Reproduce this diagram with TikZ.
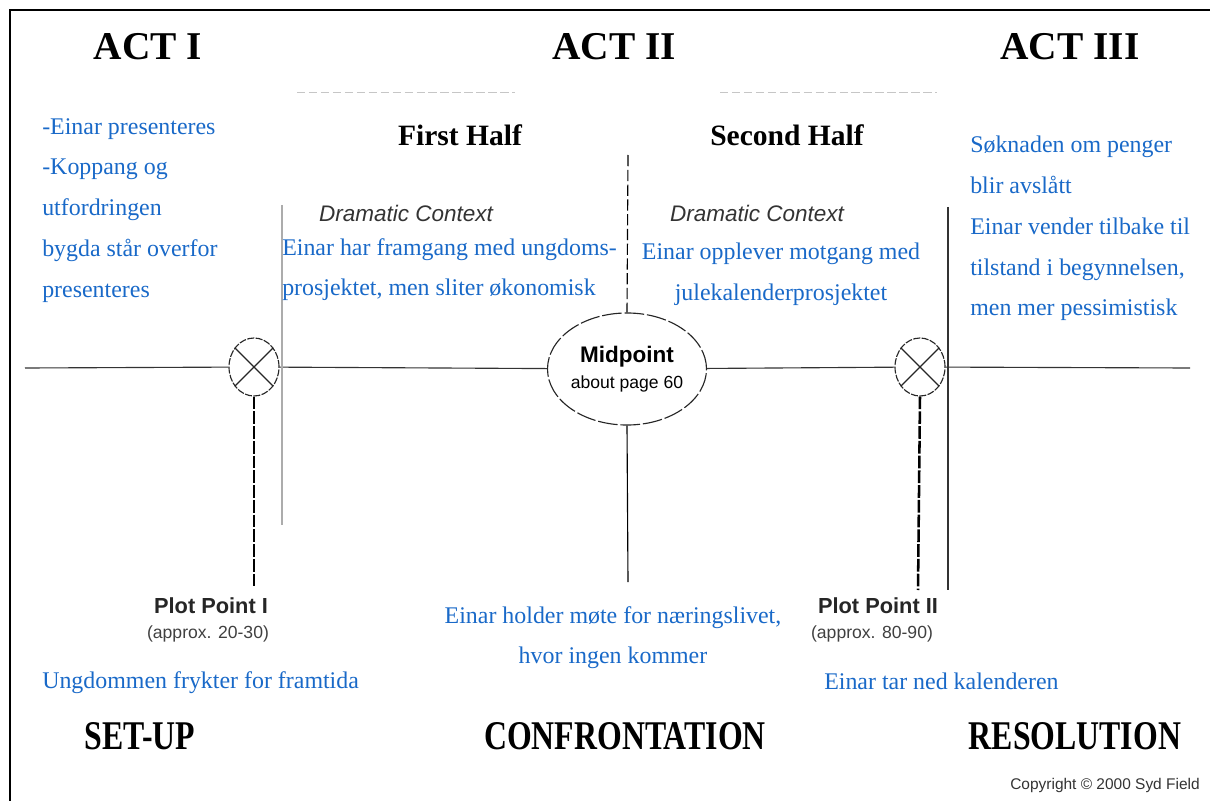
\documentclass[tikz,border=0pt]{standalone}
\usepackage{fontspec}
\setmainfont{Liberation Serif}
\setsansfont{Liberation Sans}
\usetikzlibrary{shapes.geometric}

\definecolor{noteblue}{RGB}{25,105,200}

\begin{document}
\begin{tikzpicture}[
          x=0.025cm, y=-0.025cm,
          actlbl/.style={font=\fontsize{28}{30}\selectfont\bfseries},
          halflbl/.style={font=\fontsize{21}{24}\selectfont\bfseries},
          ctxlbl/.style={font=\fontsize{16}{18}\selectfont\sffamily\itshape, text=black!80},
          notetext/.style={font=\fontsize{17}{29}\selectfont, text=noteblue, inner sep=0pt},
          partlbl/.style={font=\fontsize{29}{30}\selectfont\bfseries},
          ppmark/.style={ellipse, draw=black!85, thick, fill=white,
                         dash pattern=on 5pt off 1pt,
                         minimum width=1.25cm, minimum height=1.45cm, inner sep=0pt},
          midmark/.style={ellipse, draw=black!85, thick, fill=white,
                          dash pattern=on 14pt off 2pt, align=center,
                          minimum width=3.85cm, minimum height=2.8cm, inner sep=0pt},
          pplbl/.style={font=\fontsize{15.5}{17}\selectfont\sffamily\bfseries, text=black!85},
          ppsub/.style={font=\fontsize{12.5}{14}\selectfont\sffamily, text=black!75},
          axis/.style={line width=0.8pt, black!80},
          drop/.style={line width=1.8pt, dash pattern=on 9pt off 1.5pt},
          divider/.style={line width=0.7pt, gray!45, dash pattern=on 6pt off 2.5pt}
        ]
          \useasboundingbox (0,0) rectangle (1210,801);

          % frame
          \coordinate (frameBL) at (10,801);
          \coordinate (frameTL) at (10,10);
          \coordinate (frameTR) at (1210,10);
          \draw[line width=1.4pt] (frameBL) -- (frameTL) -- (frameTR);

          % acts
          \node[actlbl] (actOne)   at (148,47)  {ACT I};
          \node[actlbl] (actTwo)   at (614,47)  {ACT II};
          \node[actlbl] (actThree) at (1070,47) {ACT III};

          \coordinate (divAL) at (297,92);
          \coordinate (divAR) at (515,92);
          \coordinate (divBL) at (720,92);
          \coordinate (divBR) at (937,92);
          \draw[divider] (divAL) -- (divAR);
          \draw[divider] (divBL) -- (divBR);

          \node[halflbl] (firstHalf)  at (460,135) {First Half};
          \node[halflbl] (secondHalf) at (787,135) {Second Half};
          \node[ctxlbl] (ctxOne) at (406,213) {Dramatic Context};
          \node[ctxlbl] (ctxTwo) at (757,213) {Dramatic Context};

          % paradigm line
          \coordinate (lineL) at (25,368);
          \coordinate (lineR) at (1190,368);
          \node[ppmark]  (pp1)   at (254,367) {};
          \node[midmark] (midpt) at (627,369)
            {{\fontsize{16}{18}\selectfont\sffamily\bfseries Midpoint}\\[5pt]
             {\fontsize{12.5}{14}\selectfont\sffamily about page 60}};
          \node[ppmark]  (pp2)   at (920,367) {};
          \draw[axis] (lineL) -- (pp1) -- (midpt) -- (pp2) -- (lineR);
          \foreach \p in {pp1, pp2} {
            \draw[black!85, thick] (\p.45) -- (\p.225);
            \draw[black!85, thick] (\p.135) -- (\p.-45);
          }

          % plot point verticals
          \coordinate (turnOneTop) at (282,205);
          \coordinate (turnOneBot) at (282,525);
          \coordinate (turnTwoTop) at (948,207);
          \coordinate (turnTwoBot) at (948,590);
          \draw[line width=1.5pt, gray!65] (turnOneTop) -- (turnOneBot);
          \draw[line width=1.1pt, black!80] (turnTwoTop) -- (turnTwoBot);

          \coordinate (dropOne) at (254,588);
          \coordinate (dropTwo) at (918,590);
          \draw[drop] (pp1.south) -- (dropOne);
          \draw[drop] (pp2.south) -- (dropTwo);

          \coordinate (midTop) at (628,155);
          \coordinate (midBot) at (628,582);
          \draw[line width=0.8pt, dash pattern=on 8pt off 2.5pt] (midTop) -- (midpt.north);
          \draw[line width=0.8pt] (midpt.south) -- (midBot);

          \node[pplbl] (ppOneLbl) at (211,606) {Plot Point I};
          \node[ppsub] (ppOneSub) at (208,634) {(approx. 20-30)};
          \node[pplbl] (ppTwoLbl) at (878,606) {Plot Point II};
          \node[ppsub] (ppTwoSub) at (872,634) {(approx. 80-90)};

          % notes
          \node[notetext, anchor=north west, align=left] (noteSetup) at (42,118)
            {-Einar presenteres\\-Koppang og\\utfordringen\\bygda står overfor\\presenteres};
          \node[notetext, anchor=north west, align=left] (noteFirst) at (282,238)
            {Einar har framgang med ungdoms-\\prosjektet, men sliter økonomisk};
          \node[notetext, anchor=north, align=center] (noteSecond) at (781,243)
            {Einar opplever motgang med\\julekalenderprosjektet};
          \node[notetext, anchor=north west, align=left] (noteEnd) at (970,136)
            {Søknaden om penger\\blir avslått\\Einar vender tilbake til\\tilstand i begynnelsen,\\men mer pessimistisk};
          \node[notetext, anchor=base west] (notePpOne) at (42,688) {Ungdommen frykter for framtida};
          \node[notetext, anchor=north, align=center] (noteMid) at (613,606)
            {Einar holder møte for næringslivet,\\hvor ingen kommer};
          \node[notetext, anchor=base west] (notePpTwo) at (824,689) {Einar tar ned kalenderen};

          % parts
          \node[partlbl] (setup)   at (140,736)  {\scalebox{0.78}[1]{SET-UP}};
          \node[partlbl] (confront) at (625,736) {\scalebox{0.78}[1]{CONFRONTATION}};
          \node[partlbl] (resolve) at (1075,736) {\scalebox{0.78}[1]{RESOLUTION}};

          \node[font=\fontsize{11}{13}\selectfont\sffamily, text=black!80] (copy) at (1105,785)
            {Copyright © 2000 Syd Field};
        \end{tikzpicture}
\end{document}
